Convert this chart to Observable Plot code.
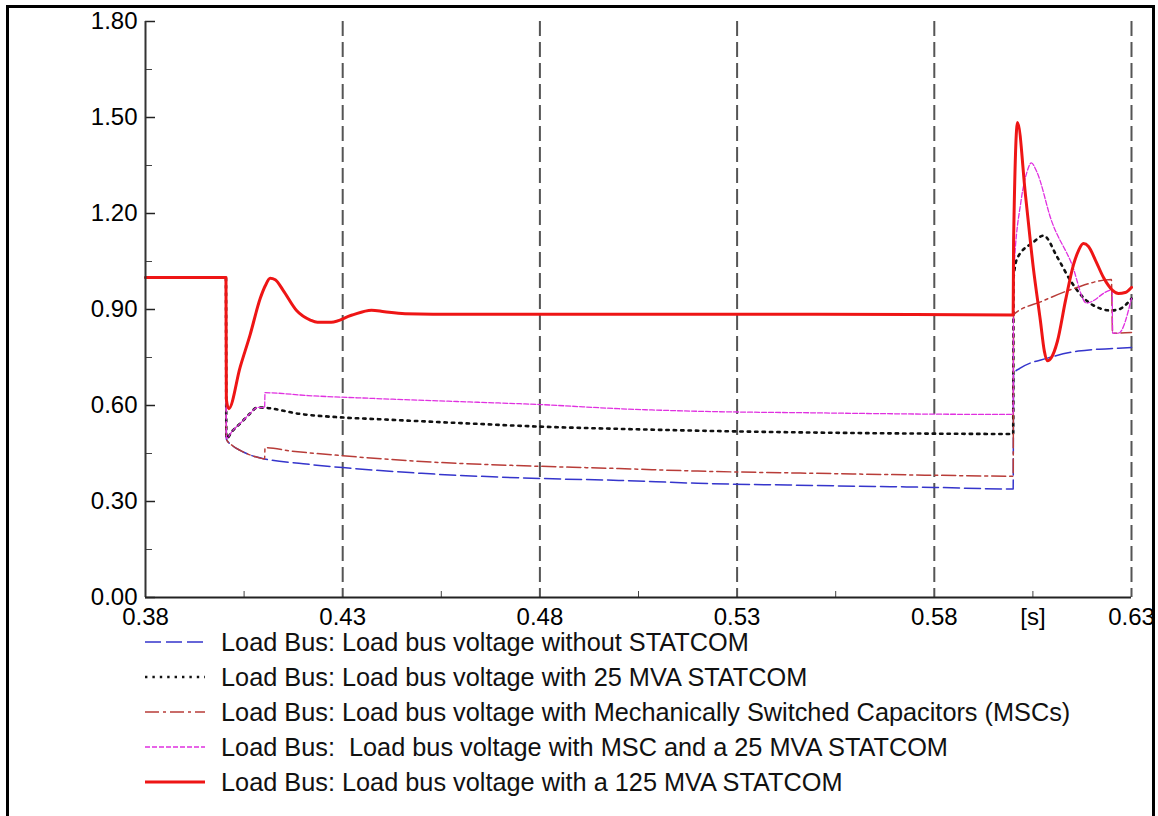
<!DOCTYPE html>
<html>
<head>
<meta charset="utf-8">
<script src="https://cdn.jsdelivr.net/npm/d3@7"></script>
<script src="https://cdn.jsdelivr.net/npm/@observablehq/plot@0.6"></script>
<style>
  html, body { margin: 0; padding: 0; background: #fff; width: 1158px; height: 816px; overflow: hidden; }
  #frame { position: absolute; left: 6px; top: 5px; width: 1143px; height: 900px; border: 3px solid #000; box-sizing: content-box; pointer-events: none; }
  #chart { position: absolute; left: 0; top: 0; }
  #legend { position: absolute; left: 0; top: 622px; }
  text { font-family: "Liberation Sans", Arial, sans-serif; }
</style>
</head>
<body>
<div id="chart"></div>
<div id="legend"></div>
<div id="frame"></div>
<script>
// ---- Data (time in s, voltage in p.u.) ----
const tBlue = [0.38, 0.4004, 0.4005, 0.4020, 0.4041, 0.4060, 0.4084, 0.4102, 0.4200, 0.4300, 0.4500, 0.4800, 0.5000, 0.5200, 0.5500, 0.5800, 0.6000, 0.6001, 0.6020, 0.6087, 0.6165, 0.6267, 0.6300];
const vBlue = [1.00, 1.00, 0.495, 0.475, 0.459, 0.448, 0.438, 0.433, 0.418, 0.406, 0.388, 0.372, 0.366, 0.357, 0.350, 0.344, 0.339, 0.700, 0.718, 0.748, 0.770, 0.779, 0.781];

const tDot = [0.38, 0.4004, 0.4005, 0.4020, 0.4041, 0.4065, 0.4084, 0.4102, 0.4190, 0.4293, 0.4394, 0.4600, 0.4800, 0.5000, 0.5300, 0.5600, 0.5800, 0.6000, 0.6001, 0.6011, 0.6051, 0.6077, 0.6112, 0.6145, 0.6178, 0.6221, 0.6247, 0.6267, 0.6300];
const vDot = [1.00, 1.00, 0.497, 0.520, 0.545, 0.575, 0.594, 0.593, 0.574, 0.563, 0.557, 0.545, 0.534, 0.527, 0.519, 0.514, 0.512, 0.511, 1.000, 1.062, 1.110, 1.131, 1.063, 0.991, 0.937, 0.903, 0.897, 0.900, 0.934];

const tMsc = [0.38, 0.4004, 0.4005, 0.4020, 0.4041, 0.4060, 0.4084, 0.4102, 0.4103, 0.4168, 0.4300, 0.4500, 0.4800, 0.5000, 0.5200, 0.5500, 0.5800, 0.6000, 0.6001, 0.6072, 0.6155, 0.6249, 0.6252, 0.6300];
const vMsc = [1.00, 1.00, 0.495, 0.475, 0.459, 0.448, 0.438, 0.433, 0.468, 0.458, 0.443, 0.425, 0.410, 0.403, 0.395, 0.388, 0.382, 0.379, 0.884, 0.925, 0.966, 0.994, 0.826, 0.828];

const tMscS = [0.38, 0.4004, 0.4005, 0.4020, 0.4041, 0.4065, 0.4084, 0.4102, 0.4103, 0.4212, 0.4379, 0.4600, 0.4800, 0.5000, 0.5200, 0.5500, 0.5800, 0.6000, 0.6001, 0.6020, 0.6035, 0.6046, 0.6060, 0.6097, 0.6148, 0.6186, 0.6249, 0.6251, 0.6252, 0.6267, 0.6300];
const vMscS = [1.00, 1.00, 0.497, 0.520, 0.545, 0.575, 0.594, 0.593, 0.640, 0.631, 0.622, 0.612, 0.603, 0.590, 0.582, 0.577, 0.573, 0.572, 1.000, 1.240, 1.330, 1.358, 1.330, 1.178, 1.044, 0.920, 0.960, 0.960, 0.826, 0.826, 0.935];

const tRed = [0.38, 0.4004, 0.4005, 0.4011, 0.4040, 0.4065, 0.4091, 0.4104, 0.4116, 0.4129, 0.4149, 0.4183, 0.4218, 0.4236, 0.4271, 0.4322, 0.4373, 0.4406, 0.4458, 0.4600, 0.5500, 0.6000, 0.6001, 0.6011, 0.6031, 0.6051, 0.6069, 0.6079, 0.6087, 0.6097, 0.6112, 0.6133, 0.6153, 0.6166, 0.6178, 0.6191, 0.6209, 0.6229, 0.6252, 0.6267, 0.6284, 0.6300];
const vRed = [1.00, 1.00, 0.620, 0.590, 0.720, 0.820, 0.935, 0.975, 0.998, 0.993, 0.960, 0.897, 0.867, 0.860, 0.860, 0.882, 0.898, 0.893, 0.887, 0.885, 0.885, 0.883, 1.110, 1.484, 1.260, 1.031, 0.865, 0.770, 0.740, 0.750, 0.800, 0.930, 1.040, 1.085, 1.106, 1.097, 1.053, 1.000, 0.960, 0.950, 0.953, 0.969];

const seriesNames = [
  "Load Bus: Load bus voltage without STATCOM",
  "Load Bus: Load bus voltage with 25 MVA STATCOM",
  "Load Bus: Load bus voltage with Mechanically Switched Capacitors (MSCs)",
  "Load Bus:  Load bus voltage with MSC and a 25 MVA STATCOM",
  "Load Bus: Load bus voltage with a 125 MVA STATCOM"
];

const yMajor = [0, 0.3, 0.6, 0.9, 1.2, 1.5, 1.8];
const yMinor = [0.15, 0.45, 0.75, 1.05, 1.35, 1.65];
const xTickValues = [0.38, 0.43, 0.48, 0.53, 0.58, 0.605, 0.63];
const xTickLabels = ["0.38", "0.43", "0.48", "0.53", "0.58", "[s]", "0.63"];
const xMinor = [0.405, 0.455, 0.505, 0.555, 0.605];
const xGrid = [0.43, 0.48, 0.53, 0.58, 0.63];

// ---- Styles ----
const styles = [
  {stroke: "#3535cc", strokeWidth: 1.5, strokeDasharray: "16,5"},
  {stroke: "#111111", strokeWidth: 2.6, strokeDasharray: "2.4,5"},
  {stroke: "#b83c38", strokeWidth: 1.5, strokeDasharray: "14,4,3,4"},
  {stroke: "#e030e0", strokeWidth: 1.3, strokeDasharray: "5,2"},
  {stroke: "#ee1515", strokeWidth: 3}
];

const zip = (t, v, s) => t.map((d, i) => ({t: d, v: v[i], s}));
const sets = [zip(tBlue, vBlue, 0), zip(tDot, vDot, 1), zip(tMsc, vMsc, 2), zip(tMscS, vMscS, 3), zip(tRed, vRed, 4)];

const chart = Plot.plot({
  width: 1158,
  height: 640,
  marginLeft: 145,
  marginRight: 27,
  marginTop: 21,
  marginBottom: 43,
  x: {domain: [0.38, 0.63]},
  y: {domain: [0, 1.8]},
  style: {fontFamily: "'Liberation Sans', Arial, sans-serif", fontSize: "24px", color: "#000", background: "transparent", overflow: "visible"},
  marks: [
    Plot.ruleX(xGrid, {stroke: "#555", strokeWidth: 2, strokeDasharray: "15,6"}),
    Plot.axisY(yMajor, {tickSize: 10, dx: 10, tickPadding: 8, tickFormat: d3.format(".2f"), label: null, stroke: "#222", fill: "#000", strokeWidth: 1.5}),
    Plot.axisY(yMinor, {tickSize: 7, dx: 7, tickFormat: () => "", label: null, stroke: "#444"}),
    Plot.axisX(xTickValues, {tickSize: 0, tickPadding: 10, tickFormat: d => xTickLabels[xTickValues.indexOf(d)], label: null, fill: "#000"}),
    Plot.axisX(xMinor, {tickSize: 6, dy: -6, tickFormat: () => "", label: null, stroke: "#444"}),
    ...sets.map((data, i) => Plot.line(data, {x: "t", y: "v", curve: "monotone-x", ...styles[i]})),
    Plot.ruleX([0.38], {stroke: "#333", strokeWidth: 2}),
    Plot.ruleY([0], {stroke: "#222", strokeWidth: 2})
  ]
});
document.getElementById("chart").appendChild(chart);

// ---- Legend ----
const lg = d3.create("svg").attr("width", 1158).attr("height", 190);
seriesNames.forEach((name, i) => {
  const y = 20 + i * 35;
  const st = styles[i];
  lg.append("line").attr("x1", 145).attr("x2", 205).attr("y1", y).attr("y2", y)
    .attr("stroke", st.stroke).attr("stroke-width", st.strokeWidth)
    .attr("stroke-dasharray", st.strokeDasharray || null);
  lg.append("text").attr("x", 221).attr("y", y).attr("dy", "0.35em")
    .style("font-family", "'Liberation Sans', Arial, sans-serif")
    .style("font-size", "25.3px").style("white-space", "pre").attr("fill", "#111")
    .text(name);
});
document.getElementById("legend").appendChild(lg.node());
</script>
</body>
</html>
